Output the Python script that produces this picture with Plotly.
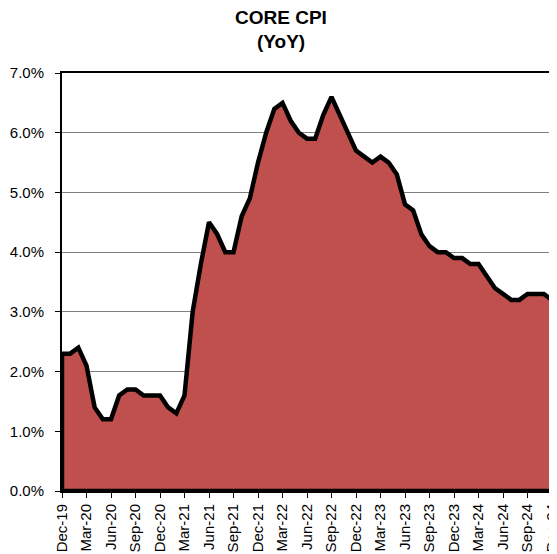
import plotly.graph_objects as go

months = ["Dec-19","Jan-20","Feb-20","Mar-20","Apr-20","May-20","Jun-20","Jul-20","Aug-20","Sep-20",
          "Oct-20","Nov-20","Dec-20","Jan-21","Feb-21","Mar-21","Apr-21","May-21","Jun-21","Jul-21",
          "Aug-21","Sep-21","Oct-21","Nov-21","Dec-21","Jan-22","Feb-22","Mar-22","Apr-22","May-22",
          "Jun-22","Jul-22","Aug-22","Sep-22","Oct-22","Nov-22","Dec-22","Jan-23","Feb-23","Mar-23",
          "Apr-23","May-23","Jun-23","Jul-23","Aug-23","Sep-23","Oct-23","Nov-23","Dec-23","Jan-24",
          "Feb-24","Mar-24","Apr-24","May-24","Jun-24","Jul-24","Aug-24","Sep-24","Oct-24","Nov-24","Dec-24"]
core_cpi = [2.3,2.3,2.4,2.1,1.4,1.2,1.2,1.6,1.7,1.7,
            1.6,1.6,1.6,1.4,1.3,1.6,3.0,3.8,4.5,4.3,
            4.0,4.0,4.6,4.9,5.5,6.0,6.4,6.5,6.2,6.0,
            5.9,5.9,6.3,6.6,6.3,6.0,5.7,5.6,5.5,5.6,
            5.5,5.3,4.8,4.7,4.3,4.1,4.0,4.0,3.9,3.9,
            3.8,3.8,3.6,3.4,3.3,3.2,3.2,3.3,3.3,3.3,3.2]
y_ticks = [0, 1, 2, 3, 4, 5, 6, 7]
y_labels = [f"{v:.1f}%" for v in y_ticks]

idx = list(range(len(months)))
tick_idx = idx[::3]
tick_lbl = months[::3]

# closed polygon so the outline runs around the whole area (as in the original)
px = [idx[0]] + idx + [idx[-1], idx[0]]
py = [0] + core_cpi + [0, 0]

FONT = "Liberation Sans, Arial"
# page body has an 8px margin, so the figure is sized to fit the window
W, H = 549, 546
L, R, T, B = 54, 5, 65, 63
PW, PH = W - L - R, H - T - B

fig = go.Figure()
fig.add_trace(go.Scatter(
    x=px, y=py, mode="lines", fill="toself",
    fillcolor="#C0504D",
    line=dict(color="black", width=4.5),
    hoverinfo="skip", showlegend=False,
))

title_x = (273 - L) / PW
fig.update_layout(
    width=W, height=H,
    margin=dict(l=L, r=R, t=T, b=B),
    paper_bgcolor="white", plot_bgcolor="white",
    font=dict(family=FONT, size=15, color="black"),
    showlegend=False,
    annotations=[
        dict(text="<b>CORE CPI</b>", xref="paper", yref="paper", x=title_x, y=1 + 43 / PH,
             xanchor="center", yanchor="bottom", showarrow=False,
             font=dict(size=19, family=FONT, color="black")),
        dict(text="<b>(YoY)</b>", xref="paper", yref="paper", x=title_x, y=1 + 19 / PH,
             xanchor="center", yanchor="bottom", showarrow=False,
             font=dict(size=19, family=FONT, color="black")),
    ],
)
fig.update_xaxes(
    range=[idx[0], idx[-1]], automargin=False,
    tickmode="array", tickvals=tick_idx, ticktext=tick_lbl, tickangle=-90,
    ticks="outside", ticklen=5, tickcolor="black", tickwidth=1,
    ticklabeloverflow="allow",
    showgrid=False, zeroline=False,
    showline=True, linecolor="black", linewidth=2, mirror=True,
    tickfont=dict(size=15),
)
fig.update_yaxes(
    range=[0, 7], automargin=False,
    tickmode="array", tickvals=y_ticks, ticktext=y_labels,
    ticks="outside", ticklen=5, tickcolor="black", tickwidth=1,
    ticklabelstandoff=8,
    showgrid=True, gridcolor="#808080", gridwidth=1,
    zeroline=False,
    showline=True, linecolor="black", linewidth=2, mirror=True,
    tickfont=dict(size=15),
)

fig.write_html("out.html")
